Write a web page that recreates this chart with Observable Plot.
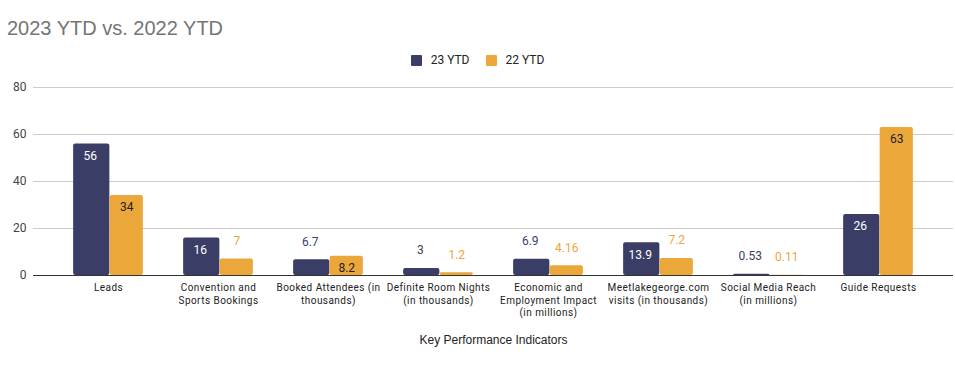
<!DOCTYPE html>
<html>
<head>
<meta charset="utf-8">
<script src="https://cdn.jsdelivr.net/npm/d3@7"></script>
<script src="https://cdn.jsdelivr.net/npm/@observablehq/plot@0.6"></script>
<style>
  html, body { margin: 0; padding: 0; background: #fff; width: 955px; height: 370px; overflow: hidden; position: relative; }
  #title { position: absolute; left: 7px; top: 16px; font: 20px "Liberation Sans", Arial, sans-serif; color: #757575; line-height: 24px; white-space: nowrap; }
  #legend { position: absolute; left: 0; width: 955px; top: 53px; height: 14px; display: flex; justify-content: center; align-items: center; font: 12px Roboto, sans-serif; color: #222; }
  #legend .item { display: flex; align-items: center; margin: 0 8px; }
  #legend .sw { width: 11px; height: 11px; border-radius: 1px; margin-right: 9px; }
  #chart { position: absolute; left: 0; top: 72px; }
</style>
</head>
<body>
<div id="title">2023 YTD vs. 2022 YTD</div>
<div id="legend"></div>
<div id="chart"></div>
<script>
const categories = [
  "Leads",
  "Convention and\nSports Bookings",
  "Booked Attendees (in\nthousands)",
  "Definite Room Nights\n(in thousands)",
  "Economic and\nEmployment Impact\n(in millions)",
  "Meetlakegeorge.com\nvisits (in thousands)",
  "Social Media Reach\n(in millions)",
  "Guide Requests"
];
const seriesNames = ["23 YTD", "22 YTD"];
const values23 = [56, 16, 6.7, 3, 6.9, 13.9, 0.53, 26];
const values22 = [34, 7, 8.2, 1.2, 4.16, 7.2, 0.11, 63];
const labels23 = ["56", "16", "6.7", "3", "6.9", "13.9", "0.53", "26"];
const labels22 = ["34", "7", "8.2", "1.2", "4.16", "7.2", "0.11", "63"];
const yTicks = [0, 20, 40, 60, 80];
const colors = ["#3a3e66", "#eca73a"];
const axisTitle = "Key Performance Indicators";

// legend
const legend = document.getElementById("legend");
seriesNames.forEach((s, i) => {
  const it = document.createElement("div");
  it.className = "item";
  it.innerHTML = `<span class="sw" style="background:${colors[i]}"></span><span>${s}</span>`;
  legend.appendChild(it);
});

const d23 = categories.map((c, i) => ({category: c, value: values23[i], label: labels23[i]}));
const d22 = categories.map((c, i) => ({category: c, value: values22[i], label: labels22[i]}));
const fits = d => d.value >= 8;

const half = 55.14;
const font = {fontFamily: "Roboto, sans-serif", fontSize: 12};

const chart = Plot.plot({
  width: 955,
  height: 298,
  marginLeft: 33,
  marginRight: 2,
  marginTop: 15,
  marginBottom: 95,
  style: {fontFamily: "Roboto, sans-serif", fontSize: "12px", background: "#fff", overflow: "visible"},
  x: {domain: categories, padding: 0, insetLeft: 19, insetRight: 19, axis: null},
  y: {domain: [0, 80], ticks: yTicks, tickSize: 0, tickPadding: 7, label: null, grid: false},
  marks: [
    Plot.ruleY(yTicks.filter(t => t > 0), {stroke: "#cccccc", strokeWidth: 1}),
    Plot.axisY ? Plot.axisY({ticks: yTicks, tickSize: 0, tickPadding: 7, label: null, fill: "#444", fontSize: 12}) : null,
    Plot.barY(d23, {x: "category", y: "value", fill: colors[0], insetLeft: half - 35, insetRight: half - 1.5, rx: 2}),
    Plot.barY(d22, {x: "category", y: "value", fill: colors[1], insetLeft: half + 1.5, insetRight: half - 35, rx: 2}),
    Plot.ruleY([0], {stroke: "#333", strokeWidth: 1}),
    // labels inside bars
    Plot.text(d23.filter(fits), {x: "category", y: "value", text: "label", dx: -18.25, dy: 12, fill: "#fff", ...font}),
    Plot.text(d22.filter(fits), {x: "category", y: "value", text: "label", dx: 18.25, dy: 12, fill: "#222", ...font}),
    // labels above bars
    Plot.text(d23.filter(d => !fits(d)), {x: "category", y: "value", text: "label", dx: -18.25, dy: -18, fill: colors[0], ...font}),
    Plot.text(d22.filter(d => !fits(d)), {x: "category", y: "value", text: "label", dx: 18.25, dy: -18, fill: colors[1], ...font}),
    // category labels
    Plot.text(categories, {x: d => d, y: 0, text: d => d, dy: 7, lineAnchor: "top", lineHeight: 1.25, fill: "#222", fontSize: 10, fontFamily: "Roboto, sans-serif"}),
    // axis title
    Plot.text([axisTitle], {frameAnchor: "bottom", text: d => d, dy: 68, fill: "#222", fontSize: 12, fontFamily: "'Liberation Sans', Arial, sans-serif"})
  ].filter(Boolean)
});
const catLines = new Set(categories.flatMap(c => c.split("\n")).concat(categories));
chart.querySelectorAll("text, tspan").forEach(t => {
  if (catLines.has(t.textContent)) t.setAttribute("letter-spacing", "0.45");
});
document.getElementById("chart").appendChild(chart);
</script>
</body>
</html>
